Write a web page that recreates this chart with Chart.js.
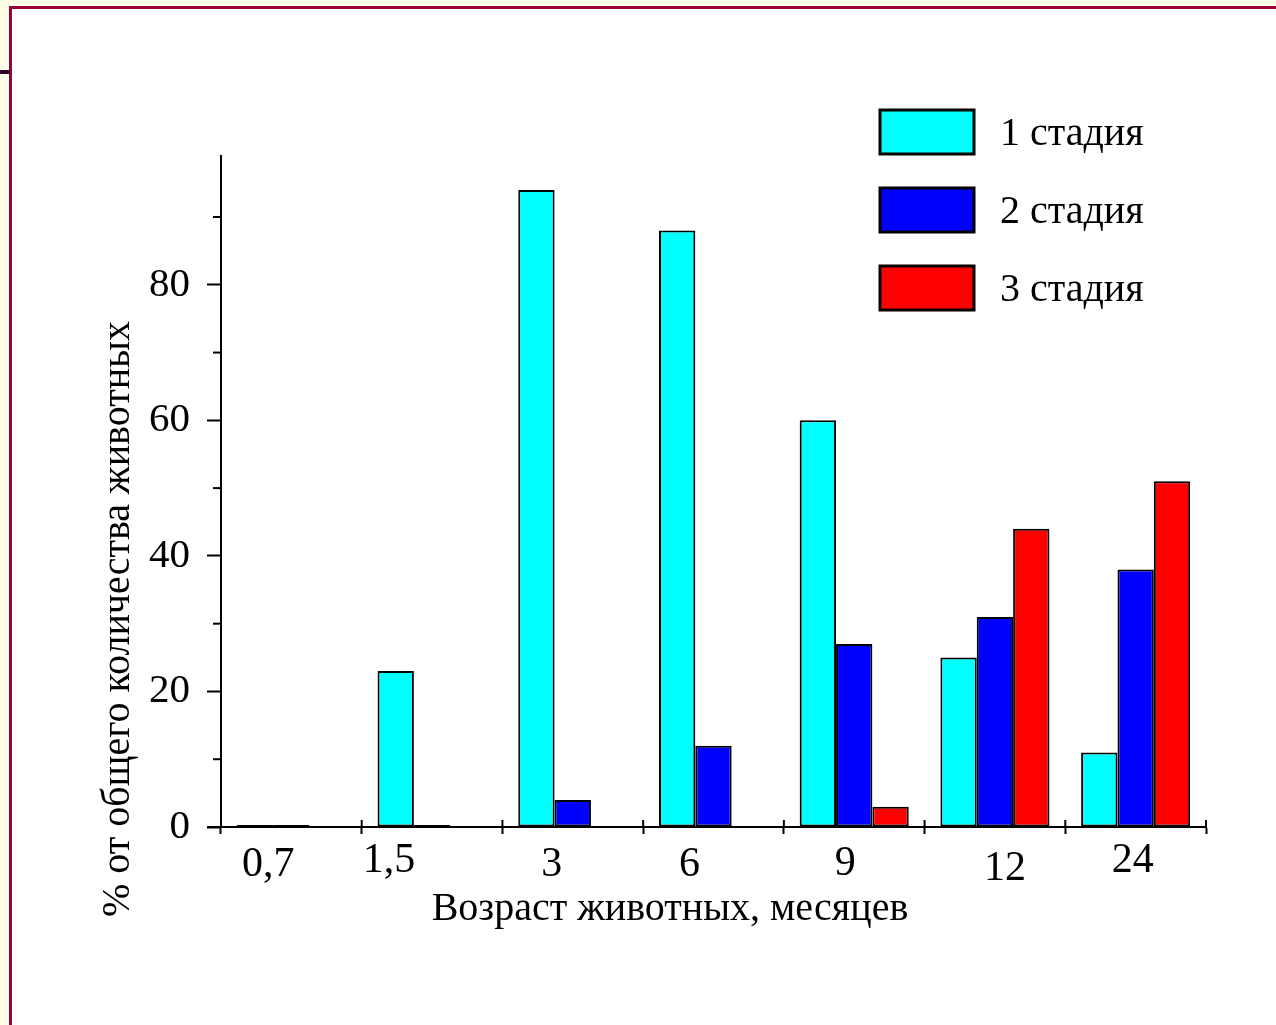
<!DOCTYPE html>
<html lang="ru">
<head>
<meta charset="utf-8">
<title>Стадии по возрасту</title>
<script src="https://cdn.jsdelivr.net/npm/chart.js@4.4.1/dist/chart.umd.min.js"></script>
<style>
  html, body { margin: 0; padding: 0; width: 100%; height: 100%; overflow: hidden; background: #ffffe6; }
  #marco { position: absolute; left: 9px; top: 6px; right: -10px; bottom: -10px; background: #fff;
           border-left: 3px solid #9c0038; border-top: 3px solid #9c0038; }
  #barrita { position: absolute; left: 0; top: 70px; width: 10px; height: 4px; background: #33002e; }
  #grafico { position: absolute; left: 0; top: 0; }
</style>
</head>
<body>
<div id="marco"></div>
<div id="barrita"></div>
<canvas id="grafico" width="1276" height="1025"></canvas>
<script>
// datos
let edades = ["0,7", "1,5", "3", "6", "9", "12", "24"];
let estadia1 = [0, 23, 94, 88, 60, 25, 11];
let estadia2 = [0, 0, 4, 12, 27, 31, 38];
let estadia3 = [null, null, null, null, 3, 44, 51];
let nombresSerie = ["1 стадия", "2 стадия", "3 стадия"];
let coloresSerie = ["#00ffff", "#0000ff", "#ff0000"];
let marcasY = [0, 20, 40, 60, 80];
let marcasMenoresY = [10, 30, 50, 70, 90];
let tituloX = "Возраст животных, месяцев";
let tituloY = "% от общего количества животных";

// las etiquetas del eje x estan colocadas a mano en el original
let ajusteEtiquetaX = [-23, -43, -21, -24, -9, 10, -3];
let baseEtiquetaX = [876, 872, 876, 876, 875, 880, 872];

let fuente = '"Liberation Serif", "Times New Roman", serif';

let dibujarTexto = (ctx, texto, x, y, size, rot, align) => {
  ctx.save();
  ctx.translate(x, y);
  if (rot) ctx.rotate(rot);
  ctx.font = `${size}px ${fuente}`;
  ctx.fillStyle = "#000";
  ctx.textAlign = align || "center";
  ctx.textBaseline = rot ? "middle" : "alphabetic";
  ctx.fillText(texto, 0, 0);
  ctx.restore();
};

let linea = (ctx, x1, y1, x2, y2) => {
  ctx.beginPath();
  ctx.moveTo(x1, y1);
  ctx.lineTo(x2, y2);
  ctx.stroke();
};

// marcas extra, titulos, etiquetas del eje x y leyenda
let extrasPlugin = {
  id: "extras",
  afterDraw: (chart) => {
    let ctx = chart.ctx;
    let ejeX = chart.scales.x;
    let ejeY = chart.scales.y;
    let abajo = ejeX.top;

    ctx.save();
    ctx.strokeStyle = "#000";
    ctx.lineWidth = 2;

    marcasMenoresY.forEach((v) => {
      let py = ejeY.getPixelForValue(v);
      linea(ctx, ejeY.right - 8, py, ejeY.right, py);
    });

    linea(ctx, ejeY.right - 14, abajo, ejeX.left, abajo);
    let ancho = ejeX.width / edades.length;
    for (let i = 0; i <= edades.length; i++) {
      let px = ejeX.left + i * ancho;
      linea(ctx, px, abajo - 7, px, abajo);
    }
    ctx.restore();

    edades.forEach((e, i) => {
      let px = ejeX.getPixelForValue(i) + ajusteEtiquetaX[i];
      dibujarTexto(ctx, e, px, baseEtiquetaX[i], 42, 0);
    });

    dibujarTexto(ctx, tituloX, 670, 920, 40, 0);
    dibujarTexto(ctx, tituloY, 118, 619, 40, -Math.PI / 2);

    chart.data.datasets.forEach((ds, i) => {
      let top = 109 + i * 78;
      ctx.save();
      ctx.fillStyle = ds.backgroundColor;
      ctx.fillRect(879, top, 96, 46);
      ctx.strokeStyle = "#000";
      ctx.lineWidth = 3;
      ctx.strokeRect(880, top + 1, 94, 44);
      ctx.restore();
      dibujarTexto(ctx, ds.label, 1000, top + 36, 40, 0, "left");
    });
  },
};

let cargarGrafico = () => {
  let plotRef = document.getElementById("grafico");
  let series = [estadia1, estadia2, estadia3];

  let config = {
    type: "bar",
    data: {
      labels: edades,
      datasets: series.map((s, i) => ({
        label: nombresSerie[i],
        data: s,
        backgroundColor: coloresSerie[i],
        borderColor: "#000",
        borderWidth: 2,
        borderSkipped: false,
        minBarLength: 2,
        categoryPercentage: 0.775,
        barPercentage: 1,
      })),
    },
    options: {
      responsive: false,
      animation: false,
      devicePixelRatio: 1,
      layout: { padding: { top: 156, right: 70, bottom: 0, left: 0 } },
      plugins: { legend: { display: false }, tooltip: { enabled: false } },
      scales: {
        x: {
          offset: true,
          grid: { drawOnChartArea: false, offset: true, tickLength: 7, tickColor: "#000", tickWidth: 2 },
          border: { color: "#000", width: 2 },
          ticks: { display: false },
          afterFit: (s) => { s.height = 198; },
        },
        y: {
          min: 0,
          max: 99,
          grid: { drawOnChartArea: false, tickLength: 14, tickColor: "#000", tickWidth: 2 },
          border: { color: "#000", width: 2 },
          ticks: { padding: 17, color: "#000", font: { family: fuente, size: 41 } },
          afterBuildTicks: (s) => { s.ticks = marcasY.map((v) => ({ value: v })); },
          afterFit: (s) => { s.width = 221; },
        },
      },
    },
    plugins: [extrasPlugin],
  };

  let chart1 = new Chart(plotRef, config);
};

cargarGrafico();
</script>
</body>
</html>
